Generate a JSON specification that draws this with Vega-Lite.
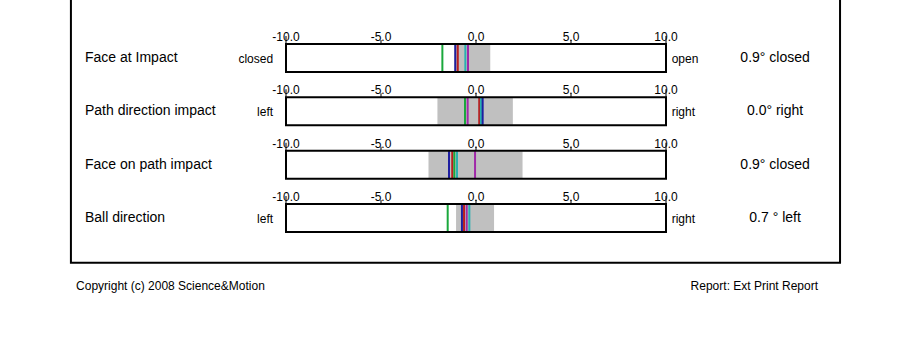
{
  "$schema": "https://vega.github.io/schema/vega-lite/v6.json",
  "width": 913,
  "height": 343,
  "autosize": "none",
  "padding": 0,
  "background": "white",
  "config": {"view": {"stroke": null}, "text": {"font": "Liberation Sans", "color": "black"}, "scale": {"continuousPadding": 0}},
  "datasets": {
    "metrics": [
      {"row": 1, "metric": "Face at Impact", "low": -1.15, "high": 0.75, "leftLabel": "closed", "rightLabel": "open", "result": "0.9° closed", "ticks": [-10, -5, 0, 5, 10], "tickLabels": ["-10.0", "-5.0", "0.0", "5.0", "10.0"]},
      {"row": 2, "metric": "Path direction impact", "low": -2.03, "high": 1.94, "leftLabel": "left", "rightLabel": "right", "result": "0.0° right", "ticks": [-10, -5, 0, 5, 10], "tickLabels": ["-10.0", "-5.0", "0.0", "5.0", "10.0"]},
      {"row": 3, "metric": "Face on path impact", "low": -2.5, "high": 2.45, "leftLabel": "", "rightLabel": "", "result": "0.9° closed", "ticks": [-10, -5, 0, 5, 10], "tickLabels": ["-10.0", "-5.0", "0.0", "5.0", "10.0"]},
      {"row": 4, "metric": "Ball direction", "low": -1.05, "high": 0.95, "leftLabel": "left", "rightLabel": "right", "result": "0.7 ° left", "ticks": [-10, -5, 0, 5, 10], "tickLabels": ["-10.0", "-5.0", "0.0", "5.0", "10.0"]}
    ],
    "shots": [
      {"row": 1, "shot": "A", "value": -1.77},
      {"row": 1, "shot": "B", "value": -1.09},
      {"row": 1, "shot": "C", "value": -0.96},
      {"row": 1, "shot": "D", "value": -0.56},
      {"row": 1, "shot": "E", "value": -0.42},
      {"row": 2, "shot": "A", "value": -0.58},
      {"row": 2, "shot": "E", "value": -0.44},
      {"row": 2, "shot": "C", "value": 0.17},
      {"row": 2, "shot": "D", "value": 0.26},
      {"row": 2, "shot": "B", "value": 0.35},
      {"row": 3, "shot": "B", "value": -1.42},
      {"row": 3, "shot": "C", "value": -1.25},
      {"row": 3, "shot": "A", "value": -1.14},
      {"row": 3, "shot": "D", "value": -1.0},
      {"row": 3, "shot": "E", "value": -0.05},
      {"row": 4, "shot": "A", "value": -1.49},
      {"row": 4, "shot": "B", "value": -0.74},
      {"row": 4, "shot": "C", "value": -0.63},
      {"row": 4, "shot": "E", "value": -0.49},
      {"row": 4, "shot": "D", "value": -0.35}
    ],
    "frame": [{"x1": -21.32, "x2": 19.16, "y1": -0.2, "y2": 4.84}],
    "footer": [{"left": "Copyright (c) 2008 Science&Motion", "right": "Report: Ext Print Report"}]
  },
  "layer": [
    {
      "data": {"name": "frame"},
      "mark": {"type": "rect", "fillOpacity": 0, "stroke": "black", "strokeWidth": 2},
      "encoding": {
        "x": {"field": "x1", "type": "quantitative", "scale": {"domain": [-10, 10], "range": [286, 666], "nice": false, "zero": false, "padding": 0}, "axis": null},
        "x2": {"field": "x2"},
        "y": {"field": "y1", "type": "quantitative", "scale": {"domain": [1, 4], "range": [58, 218], "nice": false, "zero": false, "padding": 0}, "axis": null},
        "y2": {"field": "y2"}
      }
    },
    {
      "data": {"name": "metrics"},
      "mark": {"type": "bar", "color": "#c0c0c0", "size": 27},
      "encoding": {
        "x": {"field": "low", "type": "quantitative", "scale": {"domain": [-10, 10], "range": [286, 666], "nice": false, "zero": false, "padding": 0}, "axis": null},
        "x2": {"field": "high"},
        "y": {"field": "row", "type": "quantitative", "scale": {"domain": [1, 4], "range": [58, 218], "nice": false, "zero": false, "padding": 0}, "axis": null}
      }
    },
    {
      "data": {"name": "shots"},
      "mark": {"type": "tick", "orient": "vertical", "size": 27, "thickness": 2, "opacity": 1},
      "encoding": {
        "x": {"field": "value", "type": "quantitative", "scale": {"domain": [-10, 10], "range": [286, 666], "nice": false, "zero": false, "padding": 0}, "axis": null},
        "y": {"field": "row", "type": "quantitative", "scale": {"domain": [1, 4], "range": [58, 218], "nice": false, "zero": false, "padding": 0}, "axis": null},
        "color": {"field": "shot", "type": "nominal", "scale": {"domain": ["A", "B", "C", "D", "E"], "range": ["#1aa83c", "#1e1ea0", "#b81e1e", "#28b0b0", "#a028a8"]}, "legend": null}
      }
    },
    {
      "data": {"name": "metrics"},
      "mark": {"type": "bar", "fill": "white", "fillOpacity": 0, "stroke": "black", "strokeWidth": 2, "size": 28},
      "encoding": {
        "x": {"datum": -10, "type": "quantitative", "scale": {"domain": [-10, 10], "range": [286, 666], "nice": false, "zero": false, "padding": 0}, "axis": null},
        "x2": {"datum": 10},
        "y": {"field": "row", "type": "quantitative", "scale": {"domain": [1, 4], "range": [58, 218], "nice": false, "zero": false, "padding": 0}, "axis": null}
      }
    },
    {
      "data": {"name": "metrics"},
      "transform": [{"flatten": ["ticks", "tickLabels"], "as": ["tick", "tickLabel"]}],
      "layer": [
        {
          "transform": [{"filter": "abs(datum.tick) == 10"}],
          "mark": {"type": "tick", "orient": "vertical", "size": 8, "thickness": 1, "color": "black", "opacity": 1, "yOffset": -18}
        },
        {
          "transform": [{"filter": "abs(datum.tick) < 10"}],
          "mark": {"type": "tick", "orient": "vertical", "size": 4, "thickness": 1, "color": "black", "opacity": 1, "yOffset": -16}
        },
        {
          "mark": {"type": "text", "fontSize": 12, "align": "center", "baseline": "middle", "yOffset": -21},
          "encoding": {"text": {"field": "tickLabel"}}
        }
      ],
      "encoding": {
        "x": {"field": "tick", "type": "quantitative", "scale": {"domain": [-10, 10], "range": [286, 666], "nice": false, "zero": false, "padding": 0}, "axis": null},
        "y": {"field": "row", "type": "quantitative", "scale": {"domain": [1, 4], "range": [58, 218], "nice": false, "zero": false, "padding": 0}, "axis": null}
      }
    },
    {
      "data": {"name": "metrics"},
      "mark": {"type": "text", "fontSize": 14, "align": "left", "baseline": "middle"},
      "encoding": {
        "x": {"datum": -20.58, "type": "quantitative", "scale": {"domain": [-10, 10], "range": [286, 666], "nice": false, "zero": false, "padding": 0}, "axis": null},
        "y": {"field": "row", "type": "quantitative", "scale": {"domain": [1, 4], "range": [58, 218], "nice": false, "zero": false, "padding": 0}, "axis": null},
        "text": {"field": "metric"}
      }
    },
    {
      "data": {"name": "metrics"},
      "mark": {"type": "text", "fontSize": 12, "align": "right", "baseline": "middle", "dy": 1},
      "encoding": {
        "x": {"datum": -10.68, "type": "quantitative", "scale": {"domain": [-10, 10], "range": [286, 666], "nice": false, "zero": false, "padding": 0}, "axis": null},
        "y": {"field": "row", "type": "quantitative", "scale": {"domain": [1, 4], "range": [58, 218], "nice": false, "zero": false, "padding": 0}, "axis": null},
        "text": {"field": "leftLabel"}
      }
    },
    {
      "data": {"name": "metrics"},
      "mark": {"type": "text", "fontSize": 12, "align": "left", "baseline": "middle", "dy": 1},
      "encoding": {
        "x": {"datum": 10.3, "type": "quantitative", "scale": {"domain": [-10, 10], "range": [286, 666], "nice": false, "zero": false, "padding": 0}, "axis": null},
        "y": {"field": "row", "type": "quantitative", "scale": {"domain": [1, 4], "range": [58, 218], "nice": false, "zero": false, "padding": 0}, "axis": null},
        "text": {"field": "rightLabel"}
      }
    },
    {
      "data": {"name": "metrics"},
      "mark": {"type": "text", "fontSize": 14, "align": "center", "baseline": "middle"},
      "encoding": {
        "x": {"datum": 15.74, "type": "quantitative", "scale": {"domain": [-10, 10], "range": [286, 666], "nice": false, "zero": false, "padding": 0}, "axis": null},
        "y": {"field": "row", "type": "quantitative", "scale": {"domain": [1, 4], "range": [58, 218], "nice": false, "zero": false, "padding": 0}, "axis": null},
        "text": {"field": "result"}
      }
    },
    {
      "data": {"name": "footer"},
      "mark": {"type": "text", "fontSize": 12, "align": "left", "baseline": "middle"},
      "encoding": {
        "x": {"datum": -21.05, "type": "quantitative", "scale": {"domain": [-10, 10], "range": [286, 666], "nice": false, "zero": false, "padding": 0}, "axis": null},
        "y": {"datum": 5.275, "type": "quantitative", "scale": {"domain": [1, 4], "range": [58, 218], "nice": false, "zero": false, "padding": 0}, "axis": null},
        "text": {"field": "left"}
      }
    },
    {
      "data": {"name": "footer"},
      "mark": {"type": "text", "fontSize": 12, "align": "right", "baseline": "middle"},
      "encoding": {
        "x": {"datum": 18.0, "type": "quantitative", "scale": {"domain": [-10, 10], "range": [286, 666], "nice": false, "zero": false, "padding": 0}, "axis": null},
        "y": {"datum": 5.275, "type": "quantitative", "scale": {"domain": [1, 4], "range": [58, 218], "nice": false, "zero": false, "padding": 0}, "axis": null},
        "text": {"field": "right"}
      }
    }
  ]
}
